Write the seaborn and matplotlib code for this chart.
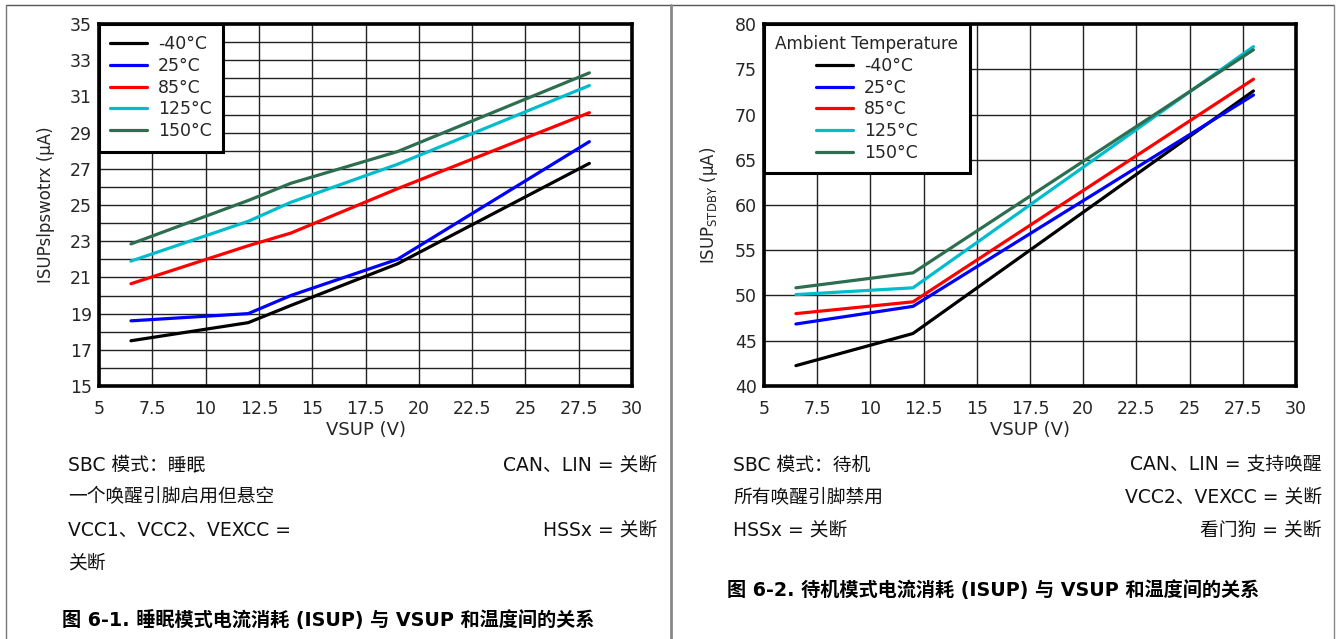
import matplotlib
matplotlib.use("Agg")
import matplotlib.pyplot as plt
import numpy as np
import pandas as pd
import seaborn as sns
from matplotlib.lines import Line2D

temps = ["-40°C", "25°C", "85°C", "125°C", "150°C"]
colors = ["#000000", "#0000ff", "#ff0000", "#00bccc", "#2e6e50"]

# sleep mode (fig 6-1)
vsup_sleep = [6.5, 12, 14, 19, 28]
isup_sleep_m40 = [17.5, 18.5, 19.45, 21.75, 27.3]
isup_sleep_25 = [18.6, 19.0, 20.0, 22.0, 28.5]
isup_sleep_85 = [20.65, 22.75, 23.45, 25.9, 30.1]
isup_sleep_125 = [21.9, 24.1, 25.15, 27.25, 31.6]
isup_sleep_150 = [22.85, 25.25, 26.2, 27.95, 32.3]

# standby mode (fig 6-2)
vsup_stdby = [6.5, 12, 28]
isup_stdby_m40 = [42.25, 45.8, 72.6]
isup_stdby_25 = [46.85, 48.8, 72.15]
isup_stdby_85 = [48.0, 49.3, 73.9]
isup_stdby_125 = [50.1, 50.85, 77.5]
isup_stdby_150 = [50.85, 52.5, 77.15]


def to_frame(x, series):
    rows = []
    for t, vals in zip(temps, series):
        for xv, yv in zip(x, vals):
            rows.append([xv, yv, t])
    return pd.DataFrame(rows, columns=["VSUP", "ISUP", "Temp"])


sleep = to_frame(vsup_sleep, [isup_sleep_m40, isup_sleep_25, isup_sleep_85,
                              isup_sleep_125, isup_sleep_150])
stdby = to_frame(vsup_stdby, [isup_stdby_m40, isup_stdby_25, isup_stdby_85,
                              isup_stdby_125, isup_stdby_150])

sns.set_style("white")
plt.rcParams['font.family'] = ['DejaVu Sans', 'Noto Sans CJK SC']

W, H = 1341, 639
fig = plt.figure(figsize=(W / 100, H / 100), dpi=100)


def px_axes(x0, x1, y0, y1):
    return fig.add_axes([x0 / W, 1 - y1 / H, (x1 - x0) / W, (y1 - y0) / H])


def style_axes(ax, ylim, ystep, ytick_step, ylabel):
    ax.set_xlim(5, 30)
    ax.set_ylim(*ylim)
    ax.set_xticks(np.arange(5, 30.1, 2.5))
    ax.set_xticklabels([f"{v:g}" for v in np.arange(5, 30.1, 2.5)])
    ax.set_yticks(np.arange(ylim[0], ylim[1] + 0.1, ytick_step))
    ax.set_yticks(np.arange(ylim[0], ylim[1] + 0.1, ystep), minor=True)
    ax.grid(True, which="both", color="#222222", linewidth=1.0)
    ax.tick_params(axis="both", which="both", length=0, labelsize=12.5)
    ax.tick_params(axis="x", pad=10)
    ax.tick_params(axis="y", pad=5)
    for s in ax.spines.values():
        s.set_visible(True)
        s.set_color("black")
        s.set_linewidth(2.6)
    ax.set_xlabel("VSUP (V)", fontsize=13, labelpad=2)
    ax.set_ylabel(ylabel, fontsize=12, labelpad=11)


def draw(ax, data, title=None):
    sns.lineplot(data=data, x="VSUP", y="ISUP", hue="Temp", hue_order=temps,
                 palette=colors, linewidth=2.3, ax=ax, legend=False)
    handles = [Line2D([], [], color=c, linewidth=2.3) for c in colors]
    leg = ax.legend(handles, temps, loc="upper left", borderaxespad=0,
                    fontsize=12.5, title=title, title_fontsize=12.2,
                    frameon=True, fancybox=False, handlelength=2.1,
                    handletextpad=0.62, labelspacing=0.21, borderpad=0.66)
    leg.get_frame().set_edgecolor("black")
    leg.get_frame().set_linewidth(2.2)
    leg.get_frame().set_alpha(1)


ax1 = px_axes(99, 632, 24, 386)
draw(ax1, sleep)
style_axes(ax1, (15, 35), 1, 2, "ISUPslpswotrx (µA)")

ax2 = px_axes(764, 1296, 24, 386)
draw(ax2, stdby, title="Ambient Temperature")
style_axes(ax2, (40, 80), 5, 5, r"ISUP$_\mathregular{STDBY}$ (µA)")

# frame lines of the page
fig.add_artist(Line2D([6 / W, 1334 / W], [1 - 5 / H, 1 - 5 / H], color="#555555", linewidth=1))
fig.add_artist(Line2D([6 / W, 6 / W], [0, 1 - 5 / H], color="#777777", linewidth=1))
fig.add_artist(Line2D([671 / W, 671 / W], [0, 1 - 5 / H], color="#888888", linewidth=2))
fig.add_artist(Line2D([1334 / W, 1334 / W], [0, 1 - 5 / H], color="#888888", linewidth=1))

body = dict(fontsize=13.5, color="#111111", va="center")
fig.text(68 / W, 1 - 465 / H, "SBC 模式：睡眠", ha="left", **body)
fig.text(657 / W, 1 - 465 / H, "CAN、LIN = 关断", ha="right", **body)
fig.text(68 / W, 1 - 497 / H, "一个唤醒引脚启用但悬空", ha="left", **body)
fig.text(68 / W, 1 - 530 / H, "VCC1、VCC2、VEXCC =", ha="left", **body)
fig.text(657 / W, 1 - 530 / H, "HSSx = 关断", ha="right", **body)
fig.text(68 / W, 1 - 563 / H, "关断", ha="left", **body)
fig.text(62 / W, 1 - 620 / H, "图 6-1. 睡眠模式电流消耗 (ISUP) 与 VSUP 和温度间的关系",
         ha="left", va="center", fontsize=13.8, fontweight="bold", color="black")

fig.text(733 / W, 1 - 465 / H, "SBC 模式：待机", ha="left", **body)
fig.text(1322 / W, 1 - 465 / H, "CAN、LIN = 支持唤醒", ha="right", **body)
fig.text(733 / W, 1 - 497 / H, "所有唤醒引脚禁用", ha="left", **body)
fig.text(1322 / W, 1 - 497 / H, "VCC2、VEXCC = 关断", ha="right", **body)
fig.text(733 / W, 1 - 530 / H, "HSSx = 关断", ha="left", **body)
fig.text(1322 / W, 1 - 530 / H, "看门狗 = 关断", ha="right", **body)
fig.text(727 / W, 1 - 590 / H, "图 6-2. 待机模式电流消耗 (ISUP) 与 VSUP 和温度间的关系",
         ha="left", va="center", fontsize=13.8, fontweight="bold", color="black")

fig.savefig("out.png", dpi=100)
